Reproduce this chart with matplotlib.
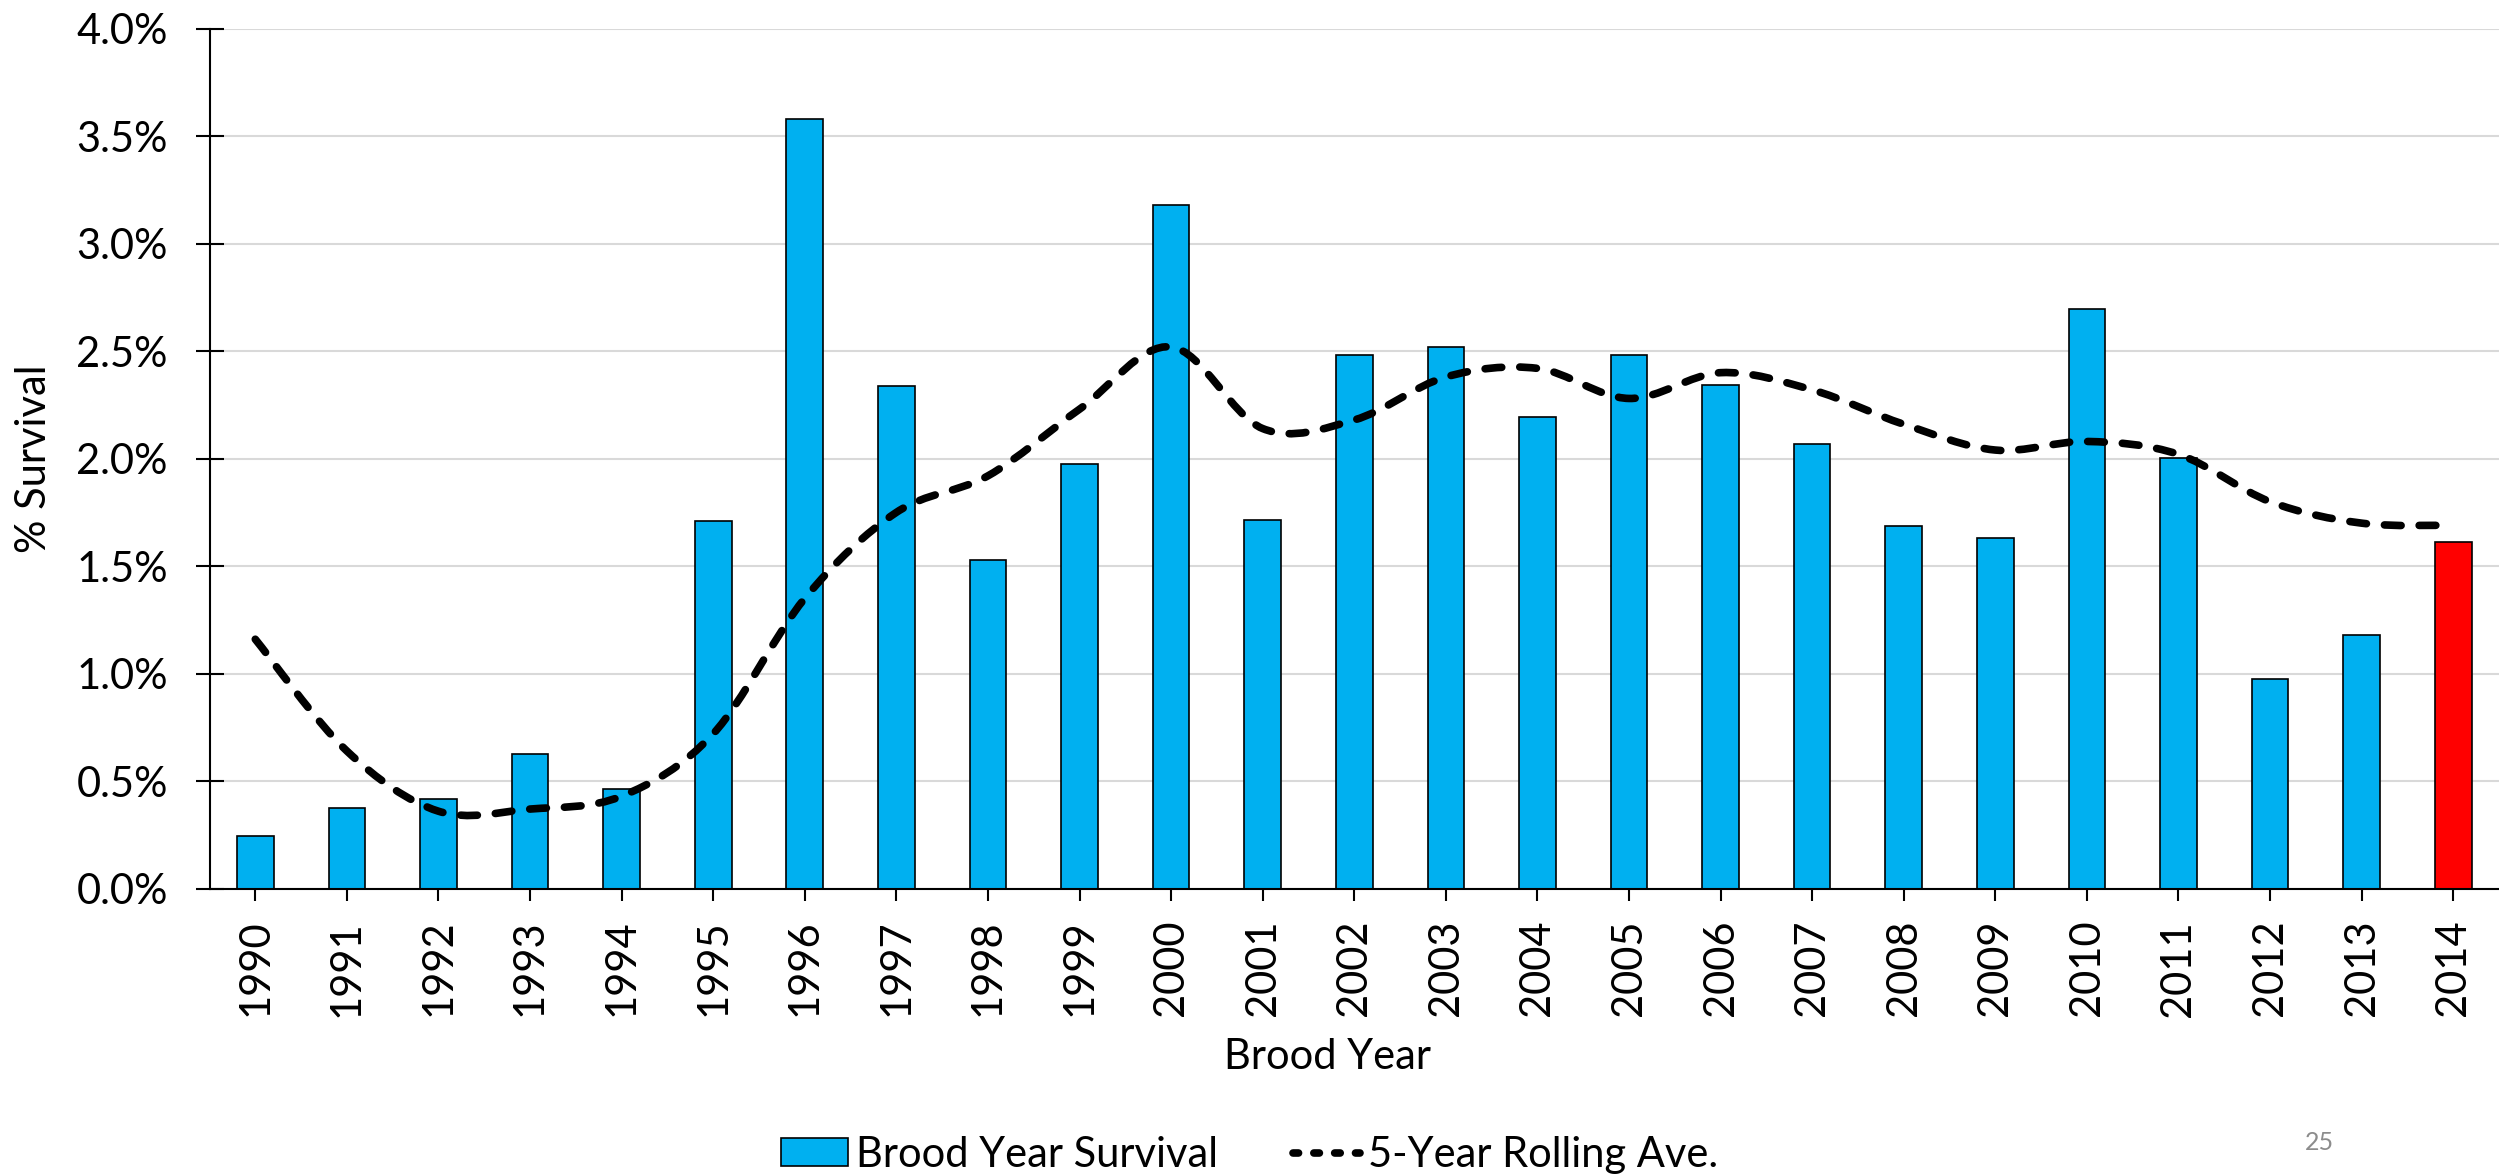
import numpy as np
import matplotlib
matplotlib.use("Agg")
import matplotlib.pyplot as plt
from matplotlib.path import Path
from matplotlib.patches import PathPatch, Patch
from matplotlib.lines import Line2D
from matplotlib.ticker import MultipleLocator, FuncFormatter

# ---------------- DATA ----------------
years = ["1990", "1991", "1992", "1993", "1994", "1995", "1996", "1997", "1998",
         "1999", "2000", "2001", "2002", "2003", "2004", "2005", "2006", "2007",
         "2008", "2009", "2010", "2011", "2012", "2013", "2014"]

# brood year survival (%)
survival = [0.243, 0.377, 0.419, 0.628, 0.465, 1.709, 3.578, 2.336, 1.530,
            1.976, 3.180, 1.714, 2.483, 2.518, 2.192, 2.483, 2.344, 2.069,
            1.688, 1.629, 2.697, 2.005, 0.975, 1.180, 1.613]

# 5-year rolling average (%)
rolling_ave = [1.16, 0.64, 0.36, 0.37, 0.43, 0.72, 1.35, 1.75, 1.92,
               2.23, 2.52, 2.14, 2.18, 2.38, 2.42, 2.28, 2.40, 2.32,
               2.16, 2.04, 2.08, 2.02, 1.80, 1.70, 1.69]

# ---------------- STYLE ----------------
plt.rcParams['font.family'] = ['Lato', 'DejaVu Sans']
plt.rcParams['lines.scale_dashes'] = False
FS = 30
BLUE = '#00B0F0'
RED = '#FF0000'

W, H = 2499, 1175
fig = plt.figure(figsize=(W / 100, H / 100), dpi=100)
ax = fig.add_axes([209.5 / W, 1 - 888.6 / H, (W - 209.5) / W, (888.6 - 28.7) / H])

x = np.arange(len(years))
colors = [BLUE] * (len(years) - 1) + [RED]
ax.bar(x, survival, width=0.4, color=colors, edgecolor='black', linewidth=1.2, zorder=2)


# smoothed line like Excel (cubic bezier through the points)
def smooth_path(xs, ys):
    pts = np.column_stack([xs, ys]).astype(float)
    n = len(pts)
    verts = [pts[0]]
    codes = [Path.MOVETO]
    for i in range(n - 1):
        p0 = pts[max(i - 1, 0)]
        p1 = pts[i]
        p2 = pts[i + 1]
        p3 = pts[min(i + 2, n - 1)]
        verts += [p1 + (p2 - p0) / 6, p2 - (p3 - p1) / 6, p2]
        codes += [Path.CURVE4] * 3
    return Path(verts, codes)


line = PathPatch(smooth_path(x, rolling_ave), fill=False, edgecolor='black', lw=5.5,
                 linestyle=(0, (12, 13)), capstyle='round', zorder=3)
ax.add_patch(line)

ax.set_xlim(-0.5, len(years) - 0.5)
ax.set_ylim(0, 4.0)
ax.yaxis.set_major_locator(MultipleLocator(0.5))
ax.yaxis.set_major_formatter(FuncFormatter(lambda v, p: f"{v:.1f}%"))
ax.set_xticks(x)
ax.set_xticklabels(years, rotation=90, va='top')

ax.grid(axis='y', color='#d9d9d9', linewidth=1.5, zorder=0)
ax.set_axisbelow(True)
for s in ['top', 'right']:
    ax.spines[s].set_visible(False)
for s in ['left', 'bottom']:
    ax.spines[s].set_linewidth(1.5)
    ax.spines[s].set_zorder(4)

ax.tick_params(axis='x', direction='inout', length=17, width=1.5, pad=14, labelsize=FS)
ax.tick_params(axis='y', direction='inout', length=20, width=1.5, pad=20, labelsize=FS)

fig.text(34 / W, 1 - 458.6 / H, "% Survival", rotation=90, ha='center', va='center', fontsize=FS)
fig.text(1327 / W, 1 - 1057 / H, "Brood Year", ha='center', va='center', fontsize=FS)
fig.text(2319 / W, 1 - 1143 / H, "25", ha='center', va='center', fontsize=18, color='#8c8c8c')

handles = [Patch(facecolor=BLUE, edgecolor='black', linewidth=1.2),
           Line2D([0], [0], color='black', lw=5.5, linestyle=(0, (4, 11)), dash_capstyle='round')]
fig.legend(handles, ["Brood Year Survival", "5-Year Rolling Ave."],
           loc='center', bbox_to_anchor=(1250 / W, 1 - 1155 / H), ncol=2, frameon=False,
           fontsize=FS, handlelength=1.6, handleheight=0.65, handletextpad=0.2,
           columnspacing=1.8, borderpad=0, borderaxespad=0)

fig.savefig("out.png", dpi=100)
